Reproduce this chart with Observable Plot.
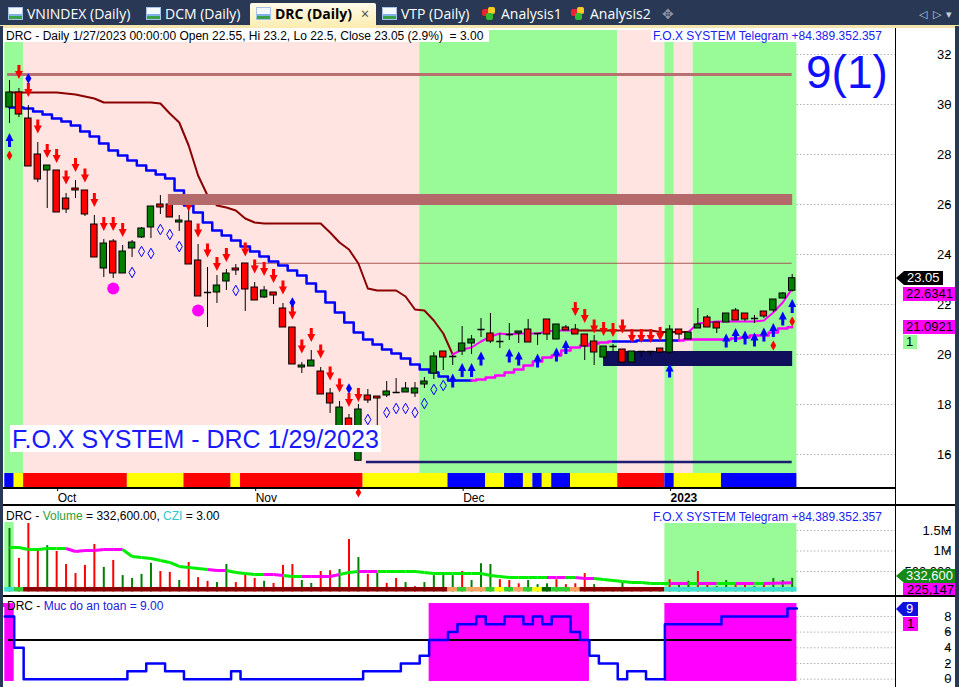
<!DOCTYPE html>
<html>
<head>
<meta charset="utf-8">
<script src="https://cdn.jsdelivr.net/npm/d3@7"></script>
<script src="https://cdn.jsdelivr.net/npm/@observablehq/plot@0.6"></script>
<style>
*{box-sizing:border-box;}
html,body{margin:0;padding:0;background:#fff;}
body{width:959px;height:687px;overflow:hidden;font-family:"Liberation Sans",Arial,sans-serif;}
#root{position:relative;width:959px;height:687px;background:#fff;overflow:hidden;}
.a{position:absolute;}
#tabs{left:0;top:0;width:959px;height:26px;background:#293955;}
#tabline{left:0;top:25px;width:959px;height:3px;background:#f3e4ae;}
.tab{position:absolute;top:4px;height:21px;color:#fff;font:14px "Open Sans","Noto Sans",Arial,sans-serif;line-height:20px;white-space:nowrap;}
.ico{display:inline-block;width:15px;height:13px;vertical-align:-1px;margin-right:4px;border:1px solid #a9c3e8;background:linear-gradient(to top,#3aa34a 0,#3aa34a 30%,#7fb2e5 30%,#7fb2e5 50%,#f4f8ff 50%);}
.cube{display:inline-block;width:15px;height:13px;vertical-align:-1px;margin-right:4px;position:relative;}
.cube i{position:absolute;width:7px;height:7px;border-radius:2px;}
#active{left:250px;top:3px;width:126px;height:25px;background:linear-gradient(#fffbea,#fdecb0);border-radius:2px 2px 0 0;}
.pl{position:absolute;left:0;}
.ttl{position:absolute;background:#fff;font:12px "Liberation Sans",Arial,sans-serif;line-height:12px;white-space:pre;color:#000;padding:0 2px;}
.tag{position:absolute;font:13px "Liberation Sans",Arial,sans-serif;line-height:14px;height:14px;white-space:nowrap;}
.hl{position:absolute;background:#000;}
</style>
</head>
<body>
<div id="root">
  <div id="mainWrap" class="pl" style="top:28px"></div>
  <div id="volWrap" class="pl" style="top:506px"></div>
  <div id="safeWrap" class="pl" style="top:597px"></div>

  <!-- tab bar -->
  <div id="tabs" class="a"></div>
  <div id="tabline" class="a"></div>
  <div id="active" class="a"></div>
  <div class="tab" style="left:8px"><span class="ico"></span>VNINDEX (Daily)</div>
  <div class="tab" style="left:146px"><span class="ico"></span>DCM (Daily)</div>
  <div class="tab" style="left:256px;color:#000;font-weight:bold"><span class="ico"></span>DRC (Daily)<span style="font-weight:normal;margin-left:9px;color:#444">×</span></div>
  <div class="tab" style="left:382px"><span class="ico"></span>VTP (Daily)</div>
  <div class="tab" style="left:482px"><span class="cube"><i style="left:0;top:2px;background:#e23"></i><i style="left:6px;top:0;background:#fc2"></i><i style="left:4px;top:6px;background:#3b3"></i></span>Analysis1</div>
  <div class="tab" style="left:571px"><span class="cube"><i style="left:0;top:2px;background:#e23"></i><i style="left:6px;top:0;background:#fc2"></i><i style="left:4px;top:6px;background:#3b3"></i></span>Analysis2</div>
  <div class="tab" style="left:662px;color:#8a94a8">✥</div>
  <div class="tab" style="left:919px;color:#c8cfdc;font-size:11px">◁&nbsp;&nbsp;▷&nbsp;&nbsp;▾</div>

  <!-- pane titles -->
  <div class="ttl" style="left:4px;top:30px">DRC - Daily 1/27/2023 00:00:00 Open 22.55, Hi 23.2, Lo 22.5, Close 23.05 (2.9%)  = 3.00 </div>
  <div class="ttl" style="left:651px;top:30px;color:#2020f0">F.O.X SYSTEM Telegram +84.389.352.357</div>
  <div class="a" style="left:806px;top:44px;font:46px 'Liberation Sans',Arial,sans-serif;color:#1010ff;line-height:56px">9(1)</div>
  <div class="a" style="left:10px;top:425px;width:371px;height:27px;background:#fff;color:#1a1aff;font:25px 'Liberation Sans',Arial,sans-serif;line-height:28px;padding-left:2px;white-space:nowrap">F.O.X SYSTEM - DRC 1/29/2023</div>

  <div class="ttl" style="left:4px;top:510px">DRC - <span style="color:#2e9e3e">Volume</span> = 332,600.00, <span style="color:#30c8d0">CZI</span> = 3.00</div>
  <div class="ttl" style="left:651px;top:511px;color:#2020f0;background:transparent">F.O.X SYSTEM Telegram +84.389.352.357</div>

  <div class="a" style="left:3px;top:603px;width:4px;height:4px;background:#ff00ff"></div>
  <div class="ttl" style="left:5px;top:600px;background:transparent">DRC - <span style="color:#2020e0">Muc do an toan = 9.00</span></div>

  <!-- value tags -->
  <div class="tag" style="left:896px;top:271px;width:47px;background:#000;color:#fff;padding-left:11px;clip-path:polygon(0 50%,8px 0,100% 0,100% 100%,8px 100%)">23.05</div>
  <div class="tag" style="left:903px;top:287px;width:52px;background:#ff00ff;color:#000;padding-left:3px">22.6341</div>
  <div class="tag" style="left:903px;top:320px;width:52px;background:#ff00ff;color:#000;padding-left:3px">21.0921</div>
  <div class="tag" style="left:903px;top:335px;width:14px;background:#98fb98;color:#000;padding-left:3px">1</div>

  <div class="tag" style="left:896px;top:569px;width:59px;background:#168a16;color:#fff;padding-left:10px;clip-path:polygon(0 50%,8px 0,100% 0,100% 100%,8px 100%)">332,600</div>
  <div class="tag" style="left:903px;top:583px;width:52px;background:#ff00ff;color:#000;padding-left:4px">225,147</div>

  <div class="tag" style="left:896px;top:602px;width:22px;background:#1010e0;color:#fff;padding-left:10px;clip-path:polygon(0 50%,7px 0,100% 0,100% 100%,7px 100%)">9</div>
  <div class="tag" style="left:903px;top:617px;width:15px;background:#ff00ff;color:#000;padding-left:4px">1</div>

  <!-- frame lines -->
  <div class="hl" style="left:3px;top:487px;width:892px;height:2px"></div>
  <div class="hl" style="left:0;top:504px;width:959px;height:2px"></div>
  <div class="hl" style="left:0;top:595px;width:959px;height:2px"></div>
  <div class="hl" style="left:895px;top:28px;width:1px;height:659px"></div>
  <div class="a" style="left:0;top:26px;width:3px;height:661px;background:#293955"></div>
  <div class="a" style="left:955px;top:26px;width:4px;height:661px;background:#293955"></div>
</div>

<script>
// ================= DATA =================
// bar index 0 = 26 Sep 2022 ... 83 = 27 Jan 2023 (daily sessions)
const monthTicks = [5, 26, 48, 70];
const monthLabels = ["Oct", "Nov", "Dec", "2023"];

const opens  = [29.88,30.48,29.44,28.0,27.36,27.36,26.24,26.64,26.56,25.2,
                23.44,24.52,23.24,24.24,24.68,25.08,26.0,26.0,25.28,25.32,
                23.76,22.48,22.48,22.92,23.44,23.64,22.68,22.28,22.48,21.84,
                21.08,19.48,19.52,19.32,18.44,17.08,17.44,15.75,18.36,18.32,
                18.36,18.48,18.48,18.44,18.8,19.24,20.12,19.92,20.12,20.44,
                21.0,20.84,20.52,20.8,20.84,21.0,20.84,21.4,20.6,21.08,
                21.0,20.8,20.52,19.88,20.32,20.2,19.68,20.12,20.12,20.24,
                20.08,21.0,20.6,21.04,21.48,21.28,21.28,21.76,21.64,21.44,
                21.72,21.76,22.24,22.55];
const highs  = [30.96,30.64,29.96,28.48,27.56,27.36,26.44,26.96,26.56,25.56,
                24.6,24.6,24.36,24.56,25.08,25.92,26.36,26.08,25.56,25.8,
                24.4,23.48,23.16,23.4,23.6,23.64,22.88,22.72,22.48,22.04,
                21.08,19.68,20.16,19.48,18.64,18.12,17.6,18.0,18.6,18.32,
                18.92,19.04,18.88,18.88,19.08,20.08,20.12,19.96,21.12,20.76,
                21.44,21.64,20.84,21.24,20.92,21.4,20.84,21.4,21.2,21.16,
                21.2,20.8,20.76,20.32,20.4,20.2,20.12,20.12,20.12,20.24,
                21.16,21.0,20.88,21.84,21.56,21.28,21.64,21.84,21.64,21.56,
                21.72,22.2,22.48,23.2];
const lows   = [29.24,29.48,27.52,26.88,25.84,25.68,25.64,26.24,25.52,23.88,
                23.08,23.04,23.24,23.88,24.64,24.64,25.6,25.48,24.92,23.6,
                22.32,21.08,22.04,22.56,23.16,21.72,22.16,22.24,22.0,21.08,
                19.6,19.24,19.52,18.4,17.64,17.0,17.0,15.75,18.04,17.1,
                18.28,18.44,18.48,18.28,18.64,19.0,19.36,19.56,19.96,20.0,
                20.68,20.44,20.24,20.56,20.44,20.48,20.36,20.56,20.6,20.96,
                20.8,19.76,19.56,19.8,20.08,19.68,19.68,19.88,19.96,20.08,
                20.0,20.6,20.6,21.04,21.08,20.84,21.28,21.36,21.32,21.24,
                21.44,21.68,22.24,22.5];
const closes = [30.48,29.6,27.52,27.0,27.56,25.68,25.8,26.56,25.6,23.88,
                24.44,23.24,24.12,24.48,25.04,25.92,25.88,25.48,25.36,23.6,
                22.32,22.48,22.76,23.24,23.36,22.6,22.16,22.56,22.36,21.08,
                19.6,19.56,19.76,18.4,18.04,17.88,17.08,17.8,18.16,18.24,
                18.52,18.48,18.64,18.64,18.92,19.92,19.88,19.92,20.44,20.6,
                21.0,20.52,20.52,20.8,20.92,20.48,20.84,20.8,21.2,20.96,
                20.8,20.32,20.08,20.32,20.32,19.68,20.12,20.12,20.12,20.08,
                21.0,20.8,20.88,21.2,21.08,21.04,21.64,21.36,21.4,21.44,
                21.52,22.2,22.44,23.05];

// volume in thousands of shares, and whether the bar is an up (1) or down (0) day
const volumes = [1550,820,1670,1040,1130,990,670,450,650,1160,
                 600,770,400,330,430,700,500,480,280,720,
                 350,260,230,670,230,430,330,260,210,650,
                 670,280,210,500,520,550,1280,840,430,450,
                 210,330,230,130,230,400,470,400,500,280,
                 690,670,300,280,200,280,180,200,300,180,
                 200,450,180,110,100,230,80,80,70,100,
                 300,180,260,500,160,130,280,180,200,130,
                 200,330,280,332.6];
const volUp   = "1000100000101111001000110001000110010101001011110111000111000010110001011001100101111".split("").map(Number);
const volMA   = [1085,1085,1037,1037,1061,1061,1061,988,1012,1012,
                 1037,1037,1037,866,841,817,768,720,622,598,
                 573,549,524,524,476,451,427,427,427,402,
                 378,378,378,378,378,427,476,500,500,500,
                 500,500,500,500,476,451,451,451,451,451,
                 451,402,378,354,354,354,354,354,354,354,
                 354,329,329,305,280,256,232,232,207,207,
                 207,207,207,207,207,207,207,207,207,207,
                 207,215,220,225.147];
const volMAHot = "0000000111111000000000110000110011110011000000000000000000110110000000011011001101111".split("").map(Number);

// trailing stop lines (price)
const upperStop = [30.48,30.48,30.48,30.48,30.48,30.48,30.44,30.4,30.32,30.24,
                   30.08,30.08,30.08,30.08,30.08,30.08,30.04,29.64,29.28,28.36,
                   27.16,26.36,25.96,25.88,25.76,25.44,25.28,25.24,25.24,25.24,
                   25.24,25.24,25.24,25.24,24.88,24.48,24.2,23.64,22.64,22.56,
                   22.56,22.56,22.32,21.8,21.76,21.36,20.84,20.0,20.2,20.28,
                   20.52,20.72,20.84,20.8,20.84,20.84,20.84,20.92,20.96,20.96,
                   20.96,20.96,20.96,20.96,20.96,20.96,20.96,20.96,20.96,20.9,
                   20.9,20.9,20.9,21.24,21.28,21.32,21.32,21.32,21.32,21.32,
                   21.36,21.68,22.08,22.6341];
const upperRuns = [[0,47,"dn"],[47,60,"up"],[60,72,"dn"],[72,83,"up"]];
const lowerStop = [29.88,29.88,29.84,29.72,29.6,29.44,29.32,29.16,28.92,28.72,
                   28.44,28.16,27.96,27.76,27.56,27.36,27.2,27.04,26.56,25.96,
                   25.68,25.28,24.96,24.76,24.56,24.32,24.12,23.92,23.72,23.56,
                   23.36,23.16,22.84,22.52,22.08,21.68,21.28,20.88,20.6,20.4,
                   20.2,20.04,19.84,19.6,19.4,19.28,19.12,18.96,18.96,18.96,
                   19.0,19.08,19.16,19.28,19.4,19.56,19.72,19.88,19.96,20.16,
                   20.28,20.36,20.44,20.48,20.52,20.52,20.52,20.56,20.56,20.56,
                   20.56,20.56,20.6,20.6,20.6,20.6,20.6,20.64,20.68,20.76,
                   20.76,20.88,21.04,21.0921];
const lowerRuns = [[0,49,"dn"],[49,64,"up"],[64,71,"dn"],[71,83,"up"]];

// trend background & state strip (runs of bar indices)
const trendRuns = [[0,1,"up"],[2,43,"dn"],[44,64,"up"],[65,69,"dn"],[70,70,"up"],[71,72,"dn"],[73,83,"up"]];
const stateRuns = [[0,0,"B"],[1,1,"Y"],[2,12,"R"],[13,18,"Y"],[19,23,"R"],[24,24,"Y"],[25,37,"R"],[38,46,"Y"],
                   [47,50,"B"],[51,52,"Y"],[53,54,"B"],[55,55,"Y"],[56,56,"B"],[57,57,"Y"],[58,59,"B"],
                   [60,64,"Y"],[65,69,"R"],[70,70,"B"],[71,75,"Y"],[76,83,"B"]];

// levels: [price, first bar, last bar]
const resistLine  = [31.2, 0, 83];
const resistZone  = [25.96, 26.4, 17, 83];
const pivotLine   = [23.65, 26, 83];
const supportZone = [19.52, 20.12, 63, 83];
const floorLine   = [15.7, 38, 83];

// signals: [bar, price]
const sellSig = [[1,31.3],[2,30.58],[3,29.12],[4,28.14],[5,27.94],[6,27.08],[7,27.58],[8,27.16],[9,26.18],[10,25.22],
                 [11,25.22],[12,24.98],[19,26.0],[20,24.96],[21,24.16],[22,23.62],[23,23.98],[25,24.2],[26,23.52],[27,23.42],
                 [28,23.14],[29,22.68],[30,21.68],[31,20.32],[32,20.78],[33,20.12],[34,19.24],[35,18.76],[36,18.18],[37,18.38],
                 [60,21.82],[61,21.54],[62,21.12],[63,21.02],[64,20.98],[65,21.12],[66,20.74],[67,20.74],[68,20.74],[69,20.82]];
const buySig  = [[0,28.58],[47,18.96],[48,19.38],[49,19.38],[50,19.84],[53,19.96],[54,19.84],[56,19.76],[58,20.0],[59,20.3],
                 [70,19.36],[76,20.56],[77,20.78],[78,20.68],[79,20.6],[80,20.8],[81,20.98],[82,21.44],[83,21.94]];
const watchPts = [[13,23.28],[14,24.12],[15,24.04],[16,25.0],[17,24.8],[18,24.32],[24,22.56],[38,17.4],[40,17.68],
                  [41,17.84],[42,17.84],[43,17.68],[44,18.04],[45,18.6],[46,18.76]];
const alertPts = [[2,31.04],[30,22.08],[36,18.64]];
const redDots  = [[0,27.96],[81,20.36],[83,21.32],[37,14.48]];
const bigDots  = [[11,22.64],[20,21.76]];

// "Muc do an toan" (safety level 0-9)
const safety = [8,4,0,0,0,0,0,0,0,0, 0,0,0,1,1,2,2,1,1,0,
                0,0,0,0,1,0,0,0,0,0, 0,0,0,0,0,0,0,0,1,1,
                1,1,2,2,3,5,5,6,7,7, 8,7,7,8,8,7,8,7,8,8,
                6,5,3,2,2,0,1,1,0,0, 7,7,7,7,7,7,8,8,8,8,
                8,8,8,9];
const safeRuns = [[0,0],[45,61],[70,83]];

// volume pane background & bottom strip
const volBgRuns = [[0,0,1910],[70,83,1670]];
const volStripRuns = [[0,0,"tq"],[1,1,"gr"],[2,46,"dr"],[47,47,"or"],[48,48,"lg"],[49,50,"or"],[51,51,"lg"],[52,52,"ye"],
                      [53,53,"lg"],[54,54,"or"],[55,55,"lg"],[56,56,"ye"],[57,57,"dg"],[58,59,"lg"],[60,60,"or"],
                      [61,69,"dr"],[70,83,"tq"]];

const priceTicks = [16,18,20,22,24,26,28,30,32];
const volTicks = [500,1000,1500];
const volTickLabels = ["500,000","1M","1.5M"];
const safeTicks = [0,2,4,6,8];

// ================= STYLE / LAYOUT =================
const FONT = '"Liberation Sans", Arial, sans-serif';
const BAR0 = 9, BARW = 9.43, XL = 3, XR = 895;
const xDomain = [(XL - BAR0) / BARW, (XR - BAR0) / BARW];
const last = opens.length - 1;
const pal = {up:"#98fb98", dn:"#ffe4e1", B:"#0000ff", Y:"#ffff00", R:"#ff0000"};
const lineCol = {upper:{dn:"#8b0000", up:"#ff00ff"}, lower:{dn:"#0000ff", up:"#ff00ff"}};
const stripCol = {tq:"#40e0d0", gr:"#32cd32", dr:"#8b0000", or:"#f4a460", lg:"#32cd32", ye:"#ffff00", dg:"#006400"};

const bars = opens.map((o, i) => ({i, o, h: highs[i], l: lows[i], c: closes[i]}));
const runRows = (runs) => runs.map(([s, e, k, t]) => ({s, e, k, t}));
function segRows(vals, runs, which) {
  const rows = [];
  runs.forEach(([s, e, k], seg) => { for (let i = s; i <= e; i++) rows.push({i, v: vals[i], seg, col: lineCol[which][k]}); });
  return rows;
}
const pts = (a) => a.map(([i, p]) => ({i, p}));

const arrowDown = {draw(c) { c.moveTo(-1.5,-7); c.lineTo(1.5,-7); c.lineTo(1.5,-1); c.lineTo(4,-1); c.lineTo(0,7); c.lineTo(-4,-1); c.lineTo(-1.5,-1); c.closePath(); }};
const arrowUp   = {draw(c) { c.moveTo(-1.5,7); c.lineTo(1.5,7); c.lineTo(1.5,1); c.lineTo(4,1); c.lineTo(0,-7); c.lineTo(-4,1); c.lineTo(-1.5,1); c.closePath(); }};

const yMain = [14.68, 32.96];
const stripTop = 15.24;

const main = Plot.plot({
  width: 959, height: 477, marginLeft: XL, marginRight: 959 - XR, marginTop: 2, marginBottom: 18,
  x: {domain: xDomain, axis: null, label: null},
  y: {domain: yMain, axis: null, label: null},
  color: {type: "identity"},
  style: {background: "transparent", fontFamily: FONT, fontSize: "13px", color: "#000", overflow: "visible"},
  marks: [
    Plot.ruleY(priceTicks, {x1: last + 0.5, x2: xDomain[1], stroke: "#b0b0b0", strokeDasharray: "1.5,2"}),
    Plot.rect(runRows(trendRuns), {x1: d => d.s - 0.5, x2: d => d.e + 0.5, y1: stripTop, y2: yMain[1], fill: d => pal[d.k]}),
    Plot.rect(runRows(stateRuns), {x1: d => d.s - 0.5, x2: d => d.e + 0.5, y1: yMain[0], y2: stripTop, fill: d => pal[d.k]}),
    Plot.rect([supportZone], {x1: d => d[2], x2: d => d[3] + 0.05, y1: d => d[0], y2: d => d[1], fill: "#0f0f5c"}),
    Plot.ruleY([floorLine], {y: d => d[0], x1: d => d[1] - 0.15, x2: d => d[2], stroke: "#1c1c70", strokeWidth: 2.5}),
    Plot.ruleY([pivotLine], {y: d => d[0], x1: d => d[1], x2: d => d[2], stroke: "#a85a55", strokeWidth: 1}),
    Plot.ruleY([resistLine], {y: d => d[0], x1: d => d[1] - 0.2, x2: d => d[2], stroke: "#b87070", strokeWidth: 3}),
    Plot.line(segRows(upperStop, upperRuns, "upper"), {x: "i", y: "v", z: "seg", stroke: "col", strokeWidth: 2}),
    Plot.line(segRows(lowerStop, lowerRuns, "lower"), {x: "i", y: "v", z: "seg", stroke: "col", strokeWidth: 2.5, curve: "step"}),
    Plot.ruleX(bars, {x: "i", y1: "l", y2: "h", stroke: "#000", strokeWidth: 1}),
    Plot.rect(bars.filter(d => d.o !== d.c), {x1: d => d.i - 0.34, x2: d => d.i + 0.34, y1: "o", y2: "c",
      fill: d => d.c > d.o ? "#008000" : "#ff0000", stroke: "#000", strokeWidth: 1}),
    Plot.link(bars.filter(d => d.o === d.c), {x1: d => d.i - 0.38, x2: d => d.i + 0.38, y1: "o", y2: "o", stroke: "#000", strokeWidth: 1.5}),
    Plot.dot(pts(sellSig), {x: "i", y: "p", symbol: arrowDown, fill: "#ff0000", stroke: "none"}),
    Plot.dot(pts(buySig), {x: "i", y: "p", symbol: arrowUp, fill: "#0000ff", stroke: "none"}),
    Plot.dot(pts(watchPts), {x: "i", y: "p", symbol: "diamond", r: 3.2, fill: "none", stroke: "#0000ff", strokeWidth: 1}),
    Plot.dot(pts(alertPts), {x: "i", y: "p", symbol: "diamond", r: 3.2, fill: "#0000ff", stroke: "none"}),
    Plot.dot(pts(redDots), {x: "i", y: "p", symbol: "diamond", r: 3, fill: "#ff0000", stroke: "none"}),
    Plot.dot(pts(bigDots), {x: "i", y: "p", r: 6, fill: "#ff00ff", stroke: "none"}),
    Plot.rect([resistZone], {x1: d => d[2] - 0.15, x2: d => d[3] + 0.05, y1: d => d[0], y2: d => d[1], fill: "#b46a6a"}),
    Plot.axisY({anchor: "right", ticks: priceTicks, tickSize: 4, tickPadding: 2, textAnchor: "end", dx: 50, fontSize: 13, label: null}),
    Plot.axisX({anchor: "bottom", ticks: monthTicks.slice(0, 3), tickSize: 4, tickPadding: 2, textAnchor: "start", dx: 1,
      tickFormat: d => monthLabels[monthTicks.indexOf(d)], fontSize: 12, label: null}),
    Plot.axisX({anchor: "bottom", ticks: monthTicks.slice(3), tickSize: 4, tickPadding: 2, textAnchor: "start", dx: 1,
      tickFormat: d => monthLabels[monthTicks.indexOf(d)], fontSize: 12, fontWeight: "bold", label: null})
  ]
});
document.getElementById("mainWrap").appendChild(main);

// ---- volume pane ----
const volRows = volumes.map((v, i) => ({i, v, up: volUp[i]}));
const maLinks = volMA.slice(0, -1).map((v, i) => ({i, a: v, b: volMA[i + 1], hot: volMAHot[i + 1]}));
const volMax = 2085;
const vol = Plot.plot({
  width: 959, height: 90, marginLeft: XL, marginRight: 959 - XR, marginTop: 0, marginBottom: 4.5,
  x: {domain: xDomain, axis: null, label: null},
  y: {domain: [0, volMax], axis: null, label: null},
  color: {type: "identity"},
  style: {background: "transparent", fontFamily: FONT, fontSize: "13px", color: "#000", overflow: "visible"},
  marks: [
    Plot.ruleY(volTicks, {x1: last + 0.5, x2: xDomain[1], stroke: "#b0b0b0", strokeDasharray: "1.5,2"}),
    Plot.rect(runRows(volBgRuns), {x1: d => d.s - 0.5, x2: d => d.e + 0.5, y1: 0, y2: d => d.k, fill: "#98fb98"}),
    Plot.ruleX(volRows, {x: "i", y1: 0, y2: "v", stroke: d => d.up ? "#008000" : "#ff0000", strokeWidth: 2}),
    Plot.rect(runRows(volStripRuns), {x1: d => d.s - 0.5, x2: d => d.e + 0.5, y1: 0, y2: 110, fill: d => stripCol[d.k]}),
    Plot.link(maLinks, {x1: "i", x2: d => d.i + 1, y1: "a", y2: "b", stroke: d => d.hot ? "#ff00ff" : "#00ee00", strokeWidth: 3}),
    Plot.axisY({anchor: "right", ticks: volTicks, tickSize: 4, tickPadding: 2, textAnchor: "end", dx: 50,
      tickFormat: d => volTickLabels[volTicks.indexOf(d)], fontSize: 13, label: null})
  ]
});
document.getElementById("volWrap").appendChild(vol);

// ---- safety pane ----
const safeRows = safety.map((v, i) => ({x: i - 0.5, v}));
safeRows.push({x: last + 0.5, v: safety[last]});
const safe = Plot.plot({
  width: 959, height: 90, marginLeft: XL, marginRight: 959 - XR, marginTop: 0, marginBottom: 0,
  x: {domain: xDomain, axis: null, label: null},
  y: {domain: [-1.06, 10.41], axis: null, label: null},
  color: {type: "identity"},
  style: {background: "transparent", fontFamily: FONT, fontSize: "13px", color: "#000", overflow: "visible"},
  marks: [
    Plot.ruleY(safeTicks, {x1: last + 0.5, x2: xDomain[1], stroke: "#b0b0b0", strokeDasharray: "1.5,2"}),
    Plot.rect(safeRuns.map(([s, e]) => ({s, e})), {x1: d => d.s - 0.5, x2: d => d.e + 0.5, y1: -0.29, y2: 9.64, fill: "#ff00ff"}),
    Plot.ruleY([5], {x1: -0.1, x2: last, stroke: "#000", strokeWidth: 2}),
    Plot.line(safeRows, {x: "x", y: "v", curve: "step-after", stroke: "#0000ff", strokeWidth: 2.5}),
    Plot.axisY({anchor: "right", ticks: safeTicks, tickSize: 4, tickPadding: 2, textAnchor: "end", dx: 50, fontSize: 13, label: null})
  ]
});
document.getElementById("safeWrap").appendChild(safe);
</script>
</body>
</html>
